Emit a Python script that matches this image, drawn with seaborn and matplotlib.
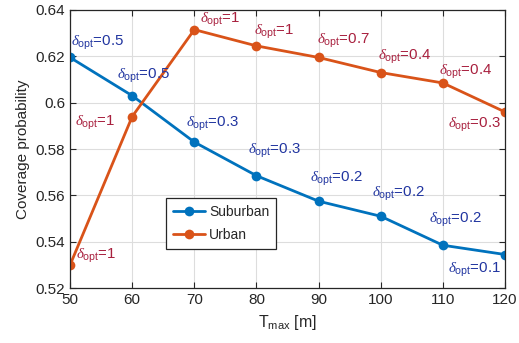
import numpy as np
import pandas as pd
import seaborn as sns
import matplotlib.pyplot as plt

t_max = [50, 60, 70, 80, 90, 100, 110, 120]
suburban = [0.6195, 0.603, 0.583, 0.5685, 0.5575, 0.551, 0.5385, 0.5345]
urban = [0.530, 0.594, 0.6315, 0.6245, 0.6195, 0.613, 0.6085, 0.596]
delta_sub = ['0.5', '0.5', '0.3', '0.3', '0.2', '0.2', '0.2', '0.1']
delta_urb = ['1', '1', '1', '1', '0.7', '0.4', '0.4', '0.3']

df = pd.DataFrame({
    'T': t_max * 2,
    'P': suburban + urban,
    'area': ['Suburban'] * len(t_max) + ['Urban'] * len(t_max),
})

sns.set_style('ticks')
plt.rcParams['font.family'] = ['Liberation Sans', 'DejaVu Sans']
plt.rcParams['mathtext.fontset'] = 'custom'
plt.rcParams['mathtext.rm'] = 'Liberation Sans'
plt.rcParams['mathtext.it'] = 'Liberation Serif:italic'

fig = plt.figure(figsize=(5.19, 3.43), dpi=100)
ax = fig.add_axes([0.135, 0.16, 0.838, 0.811])

blue = '#0072BD'
orange = '#D95319'
sns.lineplot(data=df, x='T', y='P', hue='area', palette=[blue, orange],
             marker='o', markersize=7, markeredgewidth=0, linewidth=2, ax=ax)

# label offsets (points) for each marker
off_sub = [(1, 8), (-11, 12), (-6, 11), (-6, 16), (-6, 14), (-6, 14), (-10, 16), (-41, -13)]
off_urb = [(4, 4), (-41, -7), (4, 5), (-2, 8), (-1.5, 10), (-2, 9), (-3, 6), (-41, -11.5)]
for x, y, d, o in zip(t_max, suburban, delta_sub, off_sub):
    ax.annotate(r'$\delta_{\rm opt}$=' + d, (x, y), xytext=o, textcoords='offset points',
                color='#2135A0', fontsize=10.8)
for x, y, d, o in zip(t_max, urban, delta_urb, off_urb):
    ax.annotate(r'$\delta_{\rm opt}$=' + d, (x, y), xytext=o, textcoords='offset points',
                color='#A8203E', fontsize=10.8)

ax.set_xlim(50, 120)
ax.set_ylim(0.52, 0.64)
ax.set_xticks(t_max)
ax.set_yticks([0.52, 0.54, 0.56, 0.58, 0.6, 0.62, 0.64])
ax.set_yticklabels(['0.52', '0.54', '0.56', '0.58', '0.6', '0.62', '0.64'])
ax.grid(True, color='#dddddd', linewidth=0.8)
ax.tick_params(direction='in', top=True, right=True, labelsize=11, length=4)
for s in ax.spines.values():
    s.set_color('#262626')
    s.set_linewidth(0.9)
ax.set_xlabel(r'T$_{\rm max}$ [m]', fontsize=11.5)
ax.set_ylabel('Coverage probability', fontsize=11)

leg = ax.legend(loc='lower left', bbox_to_anchor=(0.205, 0.115), fontsize=10,
                fancybox=False, framealpha=1, edgecolor='#262626', handlelength=2.3,
                handletextpad=0.3, labelspacing=0.7, borderpad=0.5)
leg.get_frame().set_linewidth(0.9)

fig.savefig('out.png', dpi=100)
